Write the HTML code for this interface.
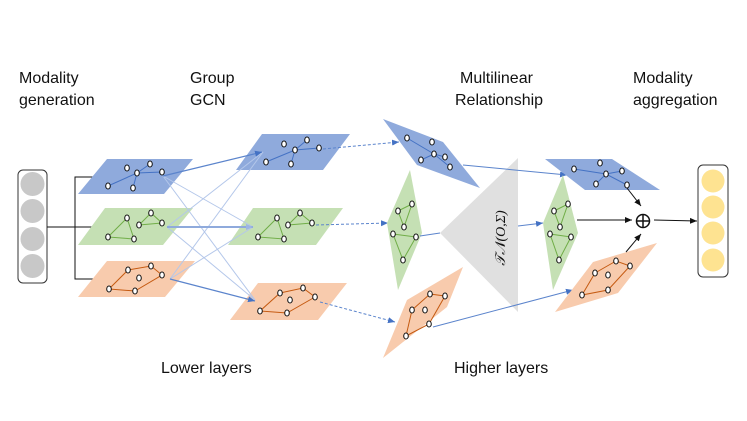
<!DOCTYPE html>
<html><head><meta charset="utf-8"><style>
html,body{margin:0;padding:0;background:#fff}
svg{display:block}
text{font-family:"Liberation Sans",sans-serif;font-size:16px;fill:#111}
</style></head><body>
<svg width="747" height="421" viewBox="0 0 747 421" xmlns="http://www.w3.org/2000/svg">
<defs>
<marker id="ab" markerWidth="8" markerHeight="8" refX="7" refY="4" orient="auto" markerUnits="userSpaceOnUse"><path d="M0,1 L7,4 L0,7z" fill="#111"/></marker>
<marker id="au" markerWidth="8" markerHeight="8" refX="7" refY="4" orient="auto" markerUnits="userSpaceOnUse"><path d="M0,1 L7,4 L0,7z" fill="#4472c4"/></marker>
<marker id="al" markerWidth="8" markerHeight="8" refX="7" refY="4" orient="auto" markerUnits="userSpaceOnUse"><path d="M0,1 L7,4 L0,7z" fill="#9db6e4"/></marker>
</defs>

<!-- labels -->
<text x="19" y="83">Modality</text><text x="19" y="105">generation</text>
<text x="190" y="83">Group</text><text x="190" y="105">GCN</text>
<text x="460" y="83">Multilinear</text><text x="455" y="105">Relationship</text>
<text x="633" y="83">Modality</text><text x="633" y="105">aggregation</text>
<text x="161" y="373">Lower layers</text>
<text x="454" y="373">Higher layers</text>

<!-- left box -->
<rect x="18" y="170" width="29" height="113" rx="5" fill="#fff" stroke="#333" stroke-width="1"/>
<g fill="#c8c8c8"><circle cx="32.5" cy="184" r="12"/><circle cx="32.5" cy="211" r="12"/><circle cx="32.5" cy="239" r="12"/><circle cx="32.5" cy="266" r="12"/></g>
<g stroke="#111" fill="none" stroke-width="1">
<line x1="47" y1="227" x2="104" y2="227" marker-end="url(#ab)"/>
<polyline points="104,177 75,177 75,279 104,279"/>
<line x1="75" y1="177" x2="105" y2="177" marker-end="url(#ab)"/>
<line x1="75" y1="279" x2="105" y2="279" marker-end="url(#ab)"/>
</g>

<!-- column1 -->
<polygon points="107,159 193,159 164,194 78,194" fill="#8faadc"/>
<polygon points="105,208 193,208 163,245 78,245" fill="#c5e0b4"/>
<polygon points="107,261 195,261 165,297 78,297" fill="#f8cbad"/>
<!-- column2 -->
<polygon points="262,134 350,134 323,170 236,170" fill="#8faadc"/>
<polygon points="253,208 343,208 316,245 228,245" fill="#c5e0b4"/>
<polygon points="258,283 347,283 318,320 230,320" fill="#f8cbad"/>

<!-- cross connections -->
<g stroke="#b4c7ea" stroke-width="1" fill="none">
<line x1="163" y1="176" x2="253" y2="227"/>
<line x1="163" y1="176" x2="255" y2="300"/>
<line x1="167" y1="227" x2="263" y2="152"/>
<line x1="167" y1="227" x2="255" y2="300"/>
<line x1="170" y1="279" x2="263" y2="152"/>
<line x1="170" y1="279" x2="253" y2="227"/>
</g>
<g stroke="#5b84cc" stroke-width="1.2" fill="none">
<line x1="163" y1="176" x2="262" y2="152" marker-end="url(#au)"/>
<line x1="167" y1="227" x2="253" y2="227" marker-end="url(#al)" stroke="#8faadc" stroke-width="2"/>
<line x1="170" y1="279" x2="255" y2="301" marker-end="url(#au)"/>
</g>

<!-- graphs col1 -->
<g stroke="#4472c4" stroke-width="1" fill="none"><polyline points="108,186 137,173 162,172"/><line x1="137" y1="173" x2="150" y2="164"/><line x1="137" y1="173" x2="133" y2="188"/></g>
<g stroke="#70ad47" stroke-width="1" fill="none"><polygon points="127,218 108,237 134,239"/><polygon points="151,213 139,225 162,223"/></g>
<g stroke="#c55a11" stroke-width="1" fill="none"><polygon points="128,270 151,266 162,275 135,291 109,289"/></g>
<g fill="#fff" stroke="#111" stroke-width="1">
<ellipse cx="127" cy="168" rx="2.3" ry="3"/><ellipse cx="150" cy="164" rx="2.3" ry="3"/><ellipse cx="137" cy="173" rx="2.3" ry="3"/><ellipse cx="162" cy="172" rx="2.3" ry="3"/><ellipse cx="108" cy="186" rx="2.3" ry="3"/><ellipse cx="133" cy="188" rx="2.3" ry="3"/>
<ellipse cx="127" cy="218" rx="2.3" ry="3"/><ellipse cx="108" cy="237" rx="2.3" ry="3"/><ellipse cx="134" cy="239" rx="2.3" ry="3"/><ellipse cx="151" cy="213" rx="2.3" ry="3"/><ellipse cx="139" cy="225" rx="2.3" ry="3"/><ellipse cx="162" cy="223" rx="2.3" ry="3"/>
<ellipse cx="128" cy="270" rx="2.3" ry="3"/><ellipse cx="151" cy="266" rx="2.3" ry="3"/><ellipse cx="162" cy="275" rx="2.3" ry="3"/><ellipse cx="135" cy="291" rx="2.3" ry="3"/><ellipse cx="109" cy="289" rx="2.3" ry="3"/><ellipse cx="139" cy="278" rx="2.3" ry="3"/>
</g>
<!-- graphs col2 -->
<g stroke="#4472c4" stroke-width="1" fill="none"><polyline points="266,162 295,150 319,148"/><line x1="295" y1="150" x2="307" y2="140"/><line x1="295" y1="150" x2="291" y2="164"/></g>
<g stroke="#70ad47" stroke-width="1" fill="none"><polygon points="277,218 258,237 284,239"/><polygon points="300,213 288,225 312,223"/></g>
<g stroke="#c55a11" stroke-width="1" fill="none"><polygon points="280,293 303,288 315,297 287,313 260,311"/></g>
<g fill="#fff" stroke="#111" stroke-width="1">
<ellipse cx="284" cy="144" rx="2.3" ry="3"/><ellipse cx="307" cy="140" rx="2.3" ry="3"/><ellipse cx="295" cy="150" rx="2.3" ry="3"/><ellipse cx="319" cy="148" rx="2.3" ry="3"/><ellipse cx="266" cy="162" rx="2.3" ry="3"/><ellipse cx="291" cy="164" rx="2.3" ry="3"/>
<ellipse cx="277" cy="218" rx="2.3" ry="3"/><ellipse cx="258" cy="237" rx="2.3" ry="3"/><ellipse cx="284" cy="239" rx="2.3" ry="3"/><ellipse cx="300" cy="213" rx="2.3" ry="3"/><ellipse cx="288" cy="225" rx="2.3" ry="3"/><ellipse cx="312" cy="223" rx="2.3" ry="3"/>
<ellipse cx="280" cy="293" rx="2.3" ry="3"/><ellipse cx="303" cy="288" rx="2.3" ry="3"/><ellipse cx="315" cy="297" rx="2.3" ry="3"/><ellipse cx="287" cy="313" rx="2.3" ry="3"/><ellipse cx="260" cy="311" rx="2.3" ry="3"/><ellipse cx="290" cy="300" rx="2.3" ry="3"/>
</g>

<!-- dashed -->
<g stroke="#5b84cc" stroke-width="1" stroke-dasharray="3,2" fill="none">
<line x1="323" y1="149" x2="399" y2="142" marker-end="url(#au)"/>
<line x1="316" y1="225" x2="388" y2="223" marker-end="url(#au)"/>
<line x1="320" y1="302" x2="395" y2="322" marker-end="url(#au)"/>
</g>

<!-- triangle -->
<polygon points="518,158 518,312 440,233" fill="#e0e0e0"/>
<text x="0" y="0" transform="translate(505,238) rotate(-90)" text-anchor="middle" style="font-family:'Liberation Serif',serif;font-style:italic;font-size:14px">𝒯𝒩(O,Σ)</text>

<!-- column3 -->
<polygon points="383,119 443,142 480,188 417,165" fill="#8faadc"/>
<polygon points="410,170 422,233 398,290 387,223" fill="#c5e0b4"/>
<polygon points="463,267 447,307 383,358 407,300" fill="#f8cbad"/>
<g stroke="#4472c4" stroke-width="1" fill="none"><polyline points="407,138 434,154 450,167"/><line x1="421" y1="160" x2="434" y2="154"/><line x1="434" y1="154" x2="445" y2="157"/></g>
<g stroke="#70ad47" stroke-width="1" fill="none"><polygon points="398,211 412,204 404,227"/><polygon points="393,234 416,237 403,260"/></g>
<g stroke="#c55a11" stroke-width="1" fill="none"><polygon points="430,294 445,296 429,324 406,336 412,310"/></g>
<g fill="#fff" stroke="#111" stroke-width="1">
<ellipse cx="407" cy="138" rx="2.3" ry="3"/><ellipse cx="432" cy="142" rx="2.3" ry="3"/><ellipse cx="434" cy="154" rx="2.3" ry="3"/><ellipse cx="421" cy="160" rx="2.3" ry="3"/><ellipse cx="450" cy="167" rx="2.3" ry="3"/><ellipse cx="445" cy="157" rx="2.3" ry="3"/>
<ellipse cx="398" cy="211" rx="2.3" ry="3"/><ellipse cx="412" cy="204" rx="2.3" ry="3"/><ellipse cx="404" cy="227" rx="2.3" ry="3"/><ellipse cx="393" cy="234" rx="2.3" ry="3"/><ellipse cx="416" cy="237" rx="2.3" ry="3"/><ellipse cx="403" cy="260" rx="2.3" ry="3"/>
<ellipse cx="430" cy="294" rx="2.3" ry="3"/><ellipse cx="445" cy="296" rx="2.3" ry="3"/><ellipse cx="429" cy="324" rx="2.3" ry="3"/><ellipse cx="406" cy="336" rx="2.3" ry="3"/><ellipse cx="412" cy="310" rx="2.3" ry="3"/><ellipse cx="425" cy="310" rx="2.3" ry="3"/>
</g>

<!-- solid connections to col4 -->
<g stroke="#5b84cc" stroke-width="1" fill="none">
<line x1="463" y1="165" x2="567" y2="175" marker-end="url(#au)"/>
<line x1="420" y1="236" x2="440" y2="233"/>
<line x1="518" y1="226" x2="543" y2="223" marker-end="url(#au)"/>
<line x1="433" y1="327" x2="573" y2="290" marker-end="url(#au)"/>
</g>

<!-- column4 -->
<polygon points="545,159 612,159 660,190 585,190" fill="#8faadc"/>
<polygon points="563,175 578,233 553,290 543,223" fill="#c5e0b4"/>
<polygon points="657,243 618,293 555,312 593,262" fill="#f8cbad"/>
<g stroke="#4472c4" stroke-width="1" fill="none"><polyline points="574,169 606,174 627,185"/><line x1="596" y1="184" x2="606" y2="174"/><line x1="606" y1="174" x2="622" y2="171"/></g>
<g stroke="#70ad47" stroke-width="1" fill="none"><polygon points="554,211 568,204 560,227"/><polygon points="550,234 571,237 559,260"/></g>
<g stroke="#c55a11" stroke-width="1" fill="none"><polygon points="595,273 616,261 630,266 608,290 582,295"/></g>
<g fill="#fff" stroke="#111" stroke-width="1">
<ellipse cx="574" cy="169" rx="2.3" ry="3"/><ellipse cx="600" cy="163" rx="2.3" ry="3"/><ellipse cx="606" cy="174" rx="2.3" ry="3"/><ellipse cx="622" cy="171" rx="2.3" ry="3"/><ellipse cx="596" cy="184" rx="2.3" ry="3"/><ellipse cx="627" cy="185" rx="2.3" ry="3"/>
<ellipse cx="554" cy="211" rx="2.3" ry="3"/><ellipse cx="568" cy="204" rx="2.3" ry="3"/><ellipse cx="560" cy="227" rx="2.3" ry="3"/><ellipse cx="550" cy="234" rx="2.3" ry="3"/><ellipse cx="571" cy="237" rx="2.3" ry="3"/><ellipse cx="559" cy="260" rx="2.3" ry="3"/>
<ellipse cx="595" cy="273" rx="2.3" ry="3"/><ellipse cx="616" cy="261" rx="2.3" ry="3"/><ellipse cx="630" cy="266" rx="2.3" ry="3"/><ellipse cx="608" cy="290" rx="2.3" ry="3"/><ellipse cx="582" cy="295" rx="2.3" ry="3"/><ellipse cx="608" cy="275" rx="2.3" ry="3"/>
</g>

<!-- aggregation -->
<g stroke="#111" stroke-width="1" fill="none">
<line x1="627" y1="188" x2="641" y2="206" marker-end="url(#ab)"/>
<line x1="577" y1="220" x2="632" y2="220" marker-end="url(#ab)"/>
<line x1="626" y1="252" x2="641" y2="234" marker-end="url(#ab)"/>
<line x1="654" y1="220" x2="697" y2="221" marker-end="url(#ab)"/>
<circle cx="643" cy="221" r="6.5" stroke-width="1.5"/>
<line x1="636.5" y1="221" x2="649.5" y2="221" stroke-width="1.5"/>
<line x1="643" y1="214.5" x2="643" y2="227.5" stroke-width="1.5"/>
</g>
<rect x="698" y="165" width="30" height="112" rx="5" fill="#fff" stroke="#333" stroke-width="1"/>
<g fill="#fee391"><circle cx="713" cy="181" r="11.5"/><circle cx="713" cy="207" r="11.5"/><circle cx="713" cy="233" r="11.5"/><circle cx="713" cy="260" r="11.5"/></g>
</svg>
</body></html>
